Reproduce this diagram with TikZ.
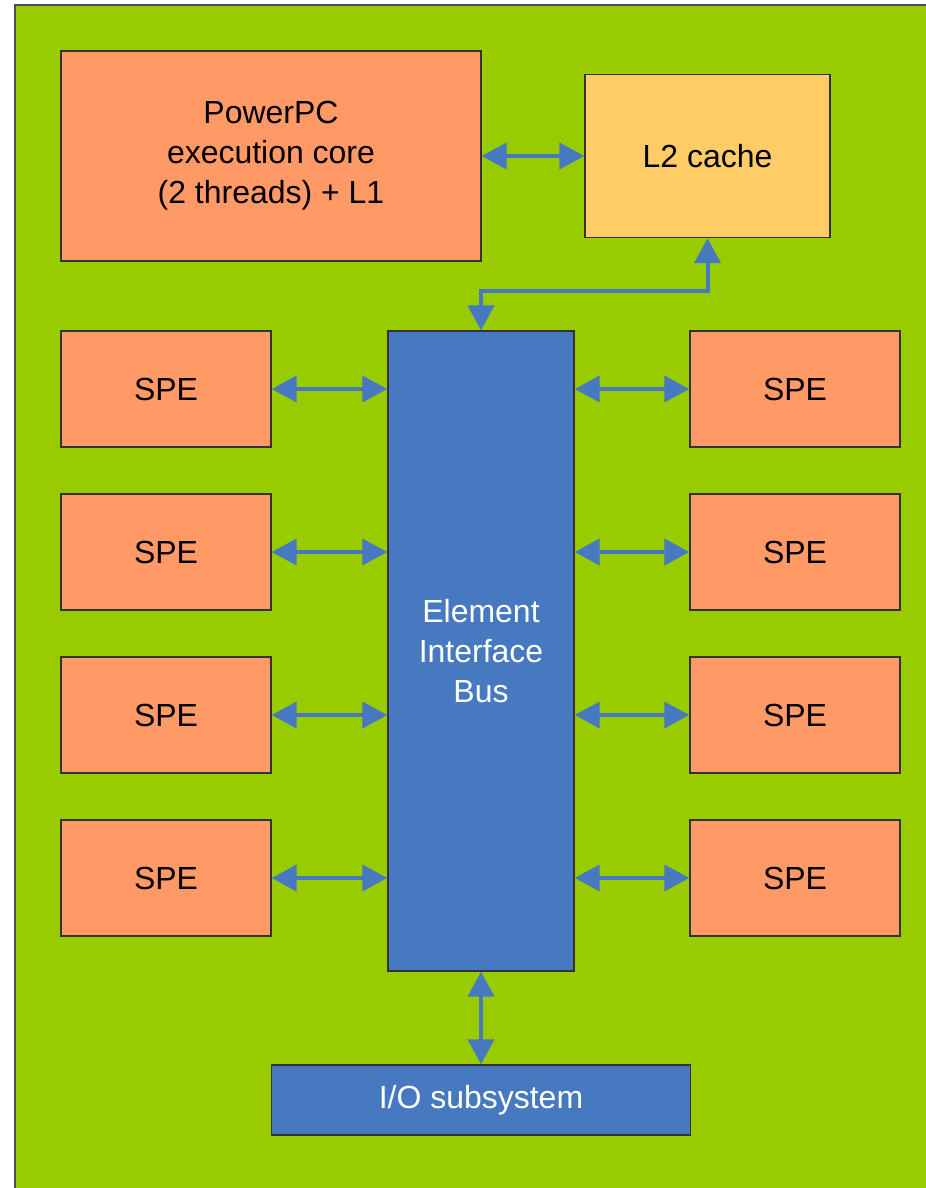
\documentclass[tikz,border=0pt]{standalone}
\usepackage{fontspec}
\setmainfont{Liberation Sans}
\usepackage{xcolor}
\usetikzlibrary{arrows.meta}
\definecolor{chipgreen}{HTML}{99CC00}
\definecolor{coreorange}{HTML}{FF9966}
\definecolor{cacheyellow}{HTML}{FFCC66}
\definecolor{busblue}{HTML}{4779C1}

\begin{document}
\begin{tikzpicture}[x=0.02cm,y=-0.02cm,
  unit/.style={draw=black!80,line width=0.8pt,fill=coreorange,inner sep=0pt,align=center,
    font=\fontsize{18.2}{22.8}\selectfont},
  busunit/.style={unit,fill=busblue,text=white},
  link/.style={busblue,line width=0.08cm,
    {Triangle[length=0.5cm,width=0.52cm]}-{Triangle[length=0.5cm,width=0.52cm]}}]
  % 1 unit = 1 px of the 926 x 1188 frame, y downwards
  \useasboundingbox (0,0) rectangle (926,1188);
  \draw[fill=chipgreen,draw=gray!60!black,line width=1pt] (15,5) rectangle (945,1210);
  % main units
  \node[unit,minimum width=8.4cm,minimum height=4.2cm] (ppc) at (271,156)
    {PowerPC\\execution core\\(2 threads) + L1};
  \node[unit,fill=cacheyellow,minimum width=4.9cm,minimum height=3.26cm] (l2) at (707.5,156) {L2 cache};
  \node[busunit,minimum width=3.72cm,minimum height=12.8cm] (bus) at (481,651)
    {Element\\Interface\\Bus};
  \node[busunit,minimum width=8.38cm,minimum height=1.4cm] (io) at (481,1100) {I/O subsystem};
  \draw[link] (ppc.east) -- (l2.west);
  \draw[link] (l2.south) -- ++(0,53) -| (bus.north);
  \draw[link] (bus.south) -- (io.north);
  % SPE columns
  \foreach \i/\y in {1/389,2/552,3/715,4/878} {
    \node[unit,minimum width=4.2cm,minimum height=2.32cm] (speL\i) at (166,\y) {SPE};
    \node[unit,minimum width=4.2cm,minimum height=2.32cm] (speR\i) at (795,\y) {SPE};
    \draw[link] (speL\i.east) -- (bus.west |- speL\i.east);
    \draw[link] (speR\i.west) -- (bus.east |- speR\i.west);
  }
\end{tikzpicture}
\end{document}
